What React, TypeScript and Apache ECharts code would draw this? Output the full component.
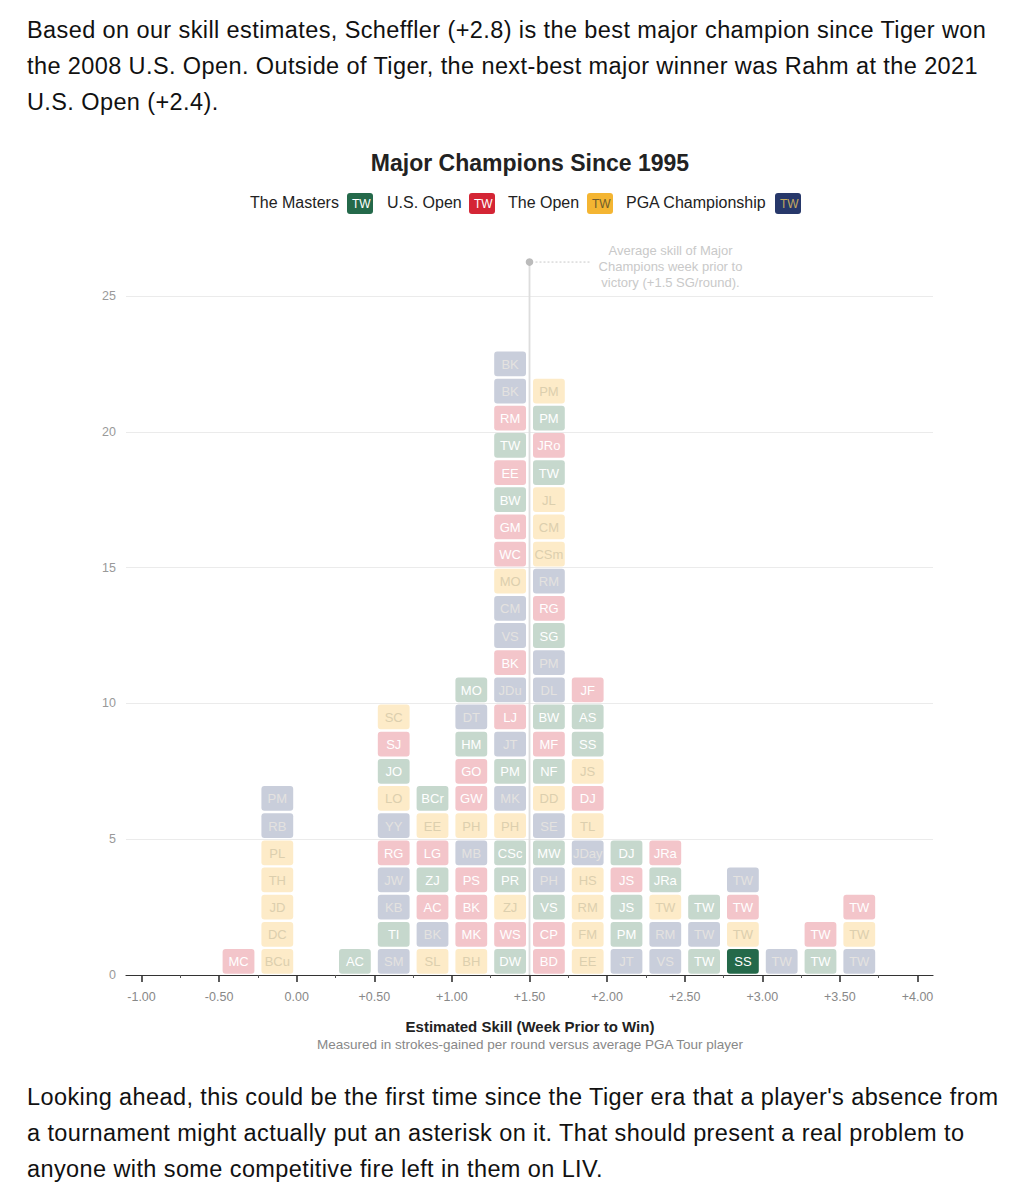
import React, { useEffect, useRef } from "react";
import * as echarts from "echarts";

// Bin centres (estimated skill, strokes-gained per round; bins are 0.25 wide)
const BIN_CENTERS = [-0.375, -0.125, 0.125, 0.375, 0.625, 0.875, 1.125, 1.375, 1.625, 1.875, 2.125, 2.375, 2.625, 2.875, 3.125, 3.375, 3.625];

// Winners' initials per bin, bottom to top
const INITIALS: string[][] = [
  ["MC"],
  ["BCu", "DC", "JD", "TH", "PL", "RB", "PM"],
  [],
  ["AC"],
  ["SM", "TI", "KB", "JW", "RG", "YY", "LO", "JO", "SJ", "SC"],
  ["SL", "BK", "AC", "ZJ", "LG", "EE", "BCr"],
  ["BH", "MK", "BK", "PS", "MB", "PH", "GW", "GO", "HM", "DT", "MO"],
  ["DW", "WS", "ZJ", "PR", "CSc", "PH", "MK", "PM", "JT", "LJ", "JDu", "BK", "VS", "CM", "MO", "WC", "GM", "BW", "EE", "TW", "RM", "BK", "BK"],
  ["BD", "CP", "VS", "PH", "MW", "SE", "DD", "NF", "MF", "BW", "DL", "PM", "SG", "RG", "RM", "CSm", "CM", "JL", "TW", "JRo", "PM", "PM"],
  ["EE", "FM", "RM", "HS", "JDay", "TL", "DJ", "JS", "SS", "AS", "JF"],
  ["JT", "PM", "JS", "JS", "DJ"],
  ["VS", "RM", "TW", "JRa", "JRa"],
  ["TW", "TW", "TW"],
  ["SS", "TW", "TW", "TW"],
  ["TW"],
  ["TW", "TW"],
  ["TW", "TW", "TW"],
];

// Major of each win, same order: M = Masters, U = U.S. Open, O = The Open, P = PGA Championship
const EVENTS: string[] = [
  "U",
  "OOOOOPP",
  "",
  "M",
  "PMPPUPOMUO",
  "OPUMUOM",
  "OUUUPOUUMPM",
  "MUOMMOPMPUPUPPOUUMUMUPP",
  "UUMPMPOMUMPPMUPOOOMUMO",
  "OOOOPOUOMMU",
  "PMMUM",
  "PPOMU",
  "MPM",
  "MOUP",
  "P",
  "MU",
  "POU",
];

// Highlighted win (Scheffler)
const HIGHLIGHT_BIN = 2.875;
const HIGHLIGHT_ROW = 0;

const AVERAGE_SKILL = 1.5;
const AVERAGE_MARK_Y = 26.25;

const X_MAJOR_TICKS = [-1, -0.5, 0, 0.5, 1, 1.5, 2, 2.5, 3, 3.5, 4];
const X_MINOR_TICKS = [-0.75, -0.25, 0.25, 0.75, 1.25, 1.75, 2.25, 2.75, 3.25, 3.75];

const LEGEND = [
  { key: "M", name: "The Masters" },
  { key: "U", name: "U.S. Open" },
  { key: "O", name: "The Open" },
  { key: "P", name: "PGA Championship" },
];

const FULL: Record<string, { fill: string; text: string }> = {
  M: { fill: "#24694a", text: "#ffffff" },
  U: { fill: "#d42535", text: "#ffffff" },
  O: { fill: "#f4b532", text: "#6f5c2c" },
  P: { fill: "#27386a", text: "#c3a960" },
};
const FADED: Record<string, { fill: string; text: string }> = {
  M: { fill: "#c6d8cd", text: "#ffffff" },
  U: { fill: "#f3c5ca", text: "#ffffff" },
  O: { fill: "#fdebc8", text: "#dccfae" },
  P: { fill: "#c9cedb", text: "#e4e2e0" },
};

const FONT = "'Liberation Sans', Arial, Helvetica, sans-serif";

type Tile = { x: number; y: number; label: string; ev: string; hi: boolean };

function buildTiles(): Tile[] {
  const out: Tile[] = [];
  BIN_CENTERS.forEach((c, i) => {
    INITIALS[i].forEach((lab, j) => {
      out.push({
        x: c,
        y: j + 0.5,
        label: lab,
        ev: EVENTS[i][j],
        hi: c === HIGHLIGHT_BIN && j === HIGHLIGHT_ROW,
      });
    });
  });
  return out;
}

function fmtX(v: number) {
  if (Math.abs(v) < 1e-9) return "0.00";
  return (v > 0 ? "+" : "") + v.toFixed(2);
}

function Chart() {
  const ref = useRef<HTMLDivElement>(null);
  useEffect(() => {
    if (!ref.current) return;
    const chart = echarts.init(ref.current, undefined, { renderer: "svg" });
    const tiles = buildTiles();

    // legend graphic
    const legendXs = [242, 379, 500, 618];
    const tileXs = [339, 461, 579, 767];
    const legendEls: any[] = [];
    LEGEND.forEach((l, i) => {
      legendEls.push({
        type: "text",
        left: legendXs[i],
        top: 64,
        style: { text: l.name, font: `16px ${FONT}`, fill: "#222" },
      });
      legendEls.push({
        type: "rect",
        left: tileXs[i],
        top: 63,
        shape: { width: 26, height: 21, r: 3 },
        style: { fill: FULL[l.key].fill },
      });
      legendEls.push({
        type: "text",
        left: tileXs[i] + 5,
        top: 68,
        style: { text: "TW", font: `12px ${FONT}`, fill: FULL[l.key].text },
      });
    });

    const option: any = {
      animation: false,
      textStyle: { fontFamily: FONT },
      grid: { left: 118, right: 73, top: 166, bottom: 95, containLabel: false },
      xAxis: [
        {
          type: "value",
          min: -1.1,
          max: 4.1,
          position: "bottom",
          axisLine: { show: true, lineStyle: { color: "#333", width: 1.2 } },
          axisTick: { show: true, customValues: X_MAJOR_TICKS, length: 7, lineStyle: { color: "#333", width: 1.6 } },
          axisLabel: { customValues: X_MAJOR_TICKS, formatter: (v: number) => fmtX(v), color: "#888", fontSize: 12.5, margin: 15 },
          splitLine: { show: false },
        },
        {
          type: "value",
          min: -1.1,
          max: 4.1,
          position: "bottom",
          axisLine: { show: false },
          axisTick: { show: true, customValues: X_MINOR_TICKS, length: 3, lineStyle: { color: "#555", width: 1 } },
          axisLabel: { show: false },
          splitLine: { show: false },
        },
      ],
      yAxis: {
        type: "value",
        min: 0,
        max: 25,
        interval: 5,
        axisLine: { show: false },
        axisTick: { show: false },
        axisLabel: { color: "#999", fontSize: 12.5, margin: 10 },
        splitLine: { lineStyle: { color: "#ebebeb", width: 1 } },
      },
      graphic: [
        {
          type: "text",
          x: 522,
          y: 33,
          style: { text: "Major Champions Since 1995", font: `bold 23px ${FONT}`, fill: "#222", align: "center", verticalAlign: "middle" },
        },
        ...legendEls,
        {
          type: "text",
          x: 522,
          y: 896,
          style: { text: "Estimated Skill (Week Prior to Win)", font: `bold 15px ${FONT}`, fill: "#222", align: "center", verticalAlign: "middle" },
        },
        {
          type: "text",
          x: 522,
          y: 914,
          style: { text: "Measured in strokes-gained per round versus average PGA Tour player", font: `13.5px ${FONT}`, fill: "#888", align: "center", verticalAlign: "middle" },
        },
      ],
      series: [
        {
          type: "custom",
          xAxisIndex: 0,
          z: 1,
          clip: false,
          data: [[AVERAGE_SKILL, AVERAGE_MARK_Y]],
          renderItem: (params: any, api: any) => {
            const top = api.coord([api.value(0), api.value(1)]);
            const bottom = api.coord([api.value(0), 0]);
            return {
              type: "group",
              children: [
                { type: "line", shape: { x1: top[0], y1: top[1], x2: bottom[0], y2: bottom[1] }, style: { stroke: "#dddddd", lineWidth: 1.8 } },
                { type: "line", shape: { x1: top[0] + 6, y1: top[1], x2: top[0] + 60, y2: top[1] }, style: { stroke: "#c8c8c8", lineWidth: 1, lineDash: [2, 2] } },
                { type: "circle", shape: { cx: top[0], cy: top[1], r: 3.8 }, style: { fill: "#bbbbbb" } },
                {
                  type: "text",
                  x: top[0] + 141,
                  y: top[1] + 4,
                  style: {
                    text: "Average skill of Major\nChampions week prior to\nvictory (+1.5 SG/round).",
                    font: `13px ${FONT}`,
                    lineHeight: 16,
                    fill: "#c9c9c9",
                    align: "center",
                    verticalAlign: "middle",
                  },
                },
              ],
            };
          },
        },
        {
          type: "custom",
          xAxisIndex: 0,
          z: 2,
          data: tiles.map((t) => [t.x, t.y]),
          renderItem: (params: any, api: any) => {
            const t = tiles[params.dataIndex];
            const c = api.coord([api.value(0), api.value(1)]);
            const s = api.size([0.25, 1]);
            const w = s[0] - 7;
            const h = s[1] - 2.4;
            const col = t.hi ? FULL[t.ev] : FADED[t.ev];
            return {
              type: "group",
              children: [
                { type: "rect", shape: { x: c[0] - w / 2, y: c[1] - h / 2, width: w, height: h, r: 3 }, style: { fill: col.fill } },
                {
                  type: "text",
                  x: c[0],
                  y: c[1] + 0.5,
                  style: { text: t.label, font: `13px ${FONT}`, fill: col.text, align: "center", verticalAlign: "middle" },
                },
              ],
            };
          },
        },
      ],
    };
    chart.setOption(option);
    return () => chart.dispose();
  }, []);
  return <div ref={ref} style={{ position: "absolute", left: 0, top: 122, width: 998, height: 940 }} />;
}

const pStyle: React.CSSProperties = {
  position: "absolute",
  left: 19,
  width: 985,
  margin: 0,
  fontFamily: FONT,
  fontSize: 23.5,
  letterSpacing: "0.4px",
  lineHeight: "36px",
  color: "#111",
};

export default function App() {
  return (
    <div style={{ position: "relative", width: 998, height: 1184 }}>
      <p style={{ ...pStyle, top: 4 }}>
        Based on our skill estimates, Scheffler (+2.8) is the best major champion since Tiger won the 2008 U.S. Open. Outside of Tiger, the next-best major winner was Rahm at the 2021 U.S. Open (+2.4).
      </p>
      <Chart />
      <p style={{ ...pStyle, top: 1071 }}>
        Looking ahead, this could be the first time since the Tiger era that a player's absence from a tournament might actually put an asterisk on it. That should present a real problem to anyone with some competitive fire left in them on LIV.
      </p>
    </div>
  );
}
